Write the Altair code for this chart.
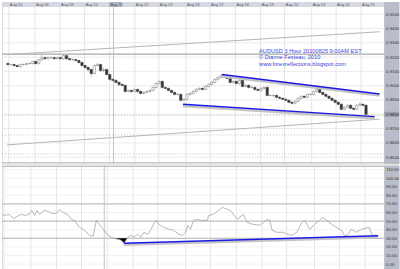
import altair as alt
import pandas as pd

# ---------------- data ----------------
opens = [0.9155, 0.9148, 0.9148, 0.9141, 0.9134, 0.9148, 0.9148, 0.9155, 0.9155, 0.9169,
         0.9155, 0.9182, 0.9196, 0.9189, 0.9196, 0.9196, 0.9189, 0.9196, 0.9189, 0.9210,
         0.9189, 0.9182, 0.9182, 0.9176, 0.9162, 0.9141, 0.9127, 0.9113, 0.9085, 0.9141,
         0.9148, 0.9106, 0.9113, 0.9078, 0.9044, 0.9037, 0.9023, 0.9009, 0.9002, 0.8960,
         0.8967, 0.8960, 0.8974, 0.8960, 0.8946, 0.8953, 0.8960, 0.8967, 0.8988, 0.9016,
         0.9030, 0.8988, 0.8981, 0.8967, 0.8953, 0.8939, 0.8939, 0.8898, 0.8905, 0.8939,
         0.8946, 0.8960, 0.8974, 0.8981, 0.8974, 0.8995, 0.9009, 0.9023, 0.9044, 0.9057,
         0.9071, 0.9064, 0.9051, 0.9023, 0.9030, 0.9016, 0.9037, 0.8995, 0.9002, 0.8988,
         0.8988, 0.8974, 0.8967, 0.8981, 0.8988, 0.8932, 0.8932, 0.8932, 0.8919, 0.8912,
         0.8905, 0.8898, 0.8884, 0.8877, 0.8891, 0.8912, 0.8926, 0.8919, 0.8939, 0.8939,
         0.8960, 0.8974, 0.8953, 0.8939, 0.8926, 0.8912, 0.8898, 0.8884, 0.8870, 0.8835,
         0.8849, 0.8863, 0.8842, 0.8835, 0.8863, 0.8870, 0.8863]
closes = [0.9148, 0.9148, 0.9141, 0.9134, 0.9148, 0.9148, 0.9155, 0.9155, 0.9169, 0.9155,
          0.9182, 0.9196, 0.9189, 0.9196, 0.9196, 0.9189, 0.9196, 0.9189, 0.9210, 0.9189,
          0.9182, 0.9182, 0.9176, 0.9162, 0.9141, 0.9127, 0.9113, 0.9085, 0.9141, 0.9148,
          0.9106, 0.9113, 0.9078, 0.9044, 0.9037, 0.9023, 0.9009, 0.9002, 0.8960, 0.8967,
          0.8960, 0.8974, 0.8960, 0.8946, 0.8953, 0.8960, 0.8967, 0.8988, 0.9016, 0.9030,
          0.8988, 0.8981, 0.8967, 0.8953, 0.8939, 0.8939, 0.8898, 0.8905, 0.8939, 0.8946,
          0.8960, 0.8974, 0.8981, 0.8974, 0.8995, 0.9009, 0.9023, 0.9044, 0.9057, 0.9071,
          0.9064, 0.9051, 0.9023, 0.9030, 0.9016, 0.9037, 0.8995, 0.9002, 0.8988, 0.8988,
          0.8974, 0.8967, 0.8981, 0.8988, 0.8932, 0.8932, 0.8932, 0.8919, 0.8912, 0.8905,
          0.8898, 0.8884, 0.8877, 0.8891, 0.8912, 0.8926, 0.8919, 0.8939, 0.8939, 0.8960,
          0.8974, 0.8953, 0.8939, 0.8926, 0.8912, 0.8898, 0.8884, 0.8870, 0.8835, 0.8849,
          0.8863, 0.8842, 0.8835, 0.8863, 0.8870, 0.8863, 0.8800]
highs = [0.9162, 0.9155, 0.9155, 0.9148, 0.9155, 0.9155, 0.9162, 0.9162, 0.9176, 0.9176,
         0.9189, 0.9217, 0.9203, 0.9203, 0.9203, 0.9203, 0.9203, 0.9203, 0.9217, 0.9217,
         0.9196, 0.9189, 0.9189, 0.9182, 0.9169, 0.9148, 0.9134, 0.9120, 0.9148, 0.9162,
         0.9155, 0.9127, 0.9120, 0.9085, 0.9051, 0.9044, 0.9030, 0.9016, 0.9009, 0.8974,
         0.8974, 0.8981, 0.8981, 0.8967, 0.8960, 0.8967, 0.8974, 0.8995, 0.9023, 0.9037,
         0.9037, 0.8995, 0.8988, 0.8974, 0.8960, 0.8946, 0.8946, 0.8912, 0.8946, 0.8953,
         0.8967, 0.8981, 0.8988, 0.8988, 0.9002, 0.9016, 0.9030, 0.9051, 0.9064, 0.9078,
         0.9078, 0.9071, 0.9057, 0.9037, 0.9037, 0.9044, 0.9044, 0.9009, 0.9009, 0.8995,
         0.8995, 0.8981, 0.8988, 0.8995, 0.8995, 0.8939, 0.8939, 0.8939, 0.8926, 0.8919,
         0.8912, 0.8905, 0.8891, 0.8898, 0.8919, 0.8932, 0.8932, 0.8946, 0.8946, 0.8967,
         0.8981, 0.8981, 0.8960, 0.8946, 0.8932, 0.8919, 0.8905, 0.8891, 0.8877, 0.8856,
         0.8870, 0.8870, 0.8849, 0.8870, 0.8884, 0.8877, 0.8870]
lows = [0.9141, 0.9141, 0.9134, 0.9127, 0.9127, 0.9141, 0.9141, 0.9148, 0.9148, 0.9148,
        0.9148, 0.9176, 0.9182, 0.9182, 0.9189, 0.9182, 0.9182, 0.9182, 0.9182, 0.9182,
        0.9176, 0.9176, 0.9169, 0.9155, 0.9134, 0.9120, 0.9099, 0.9064, 0.9078, 0.9134,
        0.9099, 0.9092, 0.9071, 0.9037, 0.9030, 0.9016, 0.8995, 0.8995, 0.8946, 0.8953,
        0.8946, 0.8953, 0.8946, 0.8939, 0.8939, 0.8946, 0.8953, 0.8960, 0.8981, 0.9009,
        0.8981, 0.8974, 0.8960, 0.8946, 0.8932, 0.8932, 0.8891, 0.8891, 0.8898, 0.8932,
        0.8939, 0.8953, 0.8967, 0.8967, 0.8967, 0.8988, 0.9002, 0.9016, 0.9037, 0.9051,
        0.9057, 0.9044, 0.9016, 0.9016, 0.9009, 0.9009, 0.8988, 0.8988, 0.8981, 0.8981,
        0.8967, 0.8960, 0.8960, 0.8974, 0.8926, 0.8926, 0.8919, 0.8912, 0.8905, 0.8898,
        0.8891, 0.8877, 0.8870, 0.8870, 0.8884, 0.8905, 0.8912, 0.8912, 0.8932, 0.8932,
        0.8953, 0.8946, 0.8932, 0.8919, 0.8905, 0.8891, 0.8877, 0.8863, 0.8828, 0.8828,
        0.8842, 0.8835, 0.8828, 0.8828, 0.8856, 0.8856, 0.8793]

day_labels = ["Aug 05", "Aug 06", "Aug 09", "Aug 10", "Aug 11", "Aug 12", "Aug 13", "Aug 16",
              "Aug 17", "Aug 18", "Aug 19", "Aug 20", "Aug 23", "Aug 24", "Aug 25"]
day_idx = [0.3, 8.8, 16.9, 24.8, 32.9, 41.1, 48.9, 57.7, 65.5, 73.7, 81.8, 89.6, 98.4, 106.3, 114.4]
highlight_day = "Aug 11"

price_ticks = [0.85, 0.86, 0.87, 0.88, 0.89, 0.90, 0.91, 0.92, 0.93, 0.94, 0.95]
dotted_levels = [0.8793, 0.8655, 0.8523]
resistance = [0.9221]

reg_idx = [-0.3, 120.4]
reg_upper = [0.9217, 0.9377]
reg_lower = [0.8586, 0.8766]

chan_up_idx = [69.3, 120.4]
chan_up_val = [0.9078, 0.8942]
chan_lo_idx = [56.7, 118.8]
chan_lo_val = [0.8870, 0.8784]

marker_main_idx = [34.2]
marker_low_idx = [32.0]

rsi_ticks = [0, 10, 20, 30, 40, 50, 60, 70, 80, 90, 100, 110]
rsi_levels = [30, 50, 70]
rsi_idx = [-0.3, 0.6, 1.9, 3.4, 5.0, 6.0, 6.9, 8.2, 9.1, 10.0, 10.7, 11.6, 12.9, 14.4, 15.4,
           16.9, 17.9, 19.1, 20.7, 21.6, 22.6, 24.1, 25.7, 27.3, 28.5, 29.5, 30.4, 31.7, 33.2,
           34.8, 36.4, 37.3, 38.2, 39.5, 40.4, 41.4, 42.6, 43.6, 44.5, 45.8, 46.7, 48.3, 49.2,
           50.8, 52.4, 53.9, 55.5, 56.7, 57.7, 58.3, 59.2, 60.2, 61.4, 62.4, 64.6, 64.9, 66.5,
           68.0, 69.3, 70.2, 71.8, 74.0, 75.9, 77.1, 79.0, 81.2, 83.4, 84.3, 85.0, 86.5, 88.4,
           90.0, 91.2, 92.8, 94.4, 95.3, 96.9, 98.4, 100.0, 100.9, 102.2, 103.8, 105.3, 106.9,
           107.8, 108.8, 110.0, 111.6, 113.2, 115.7, 116.6, 117.9]
rsi_val = [57.8, 56.6, 57.8, 53.2, 56.6, 57.8, 56.6, 57.8, 62.4, 56.6, 62.4, 57.8, 62.4, 61.3,
           59.0, 59.0, 63.6, 60.1, 56.6, 52.0, 50.9, 42.8, 39.3, 33.5, 32.4, 50.9, 46.2, 40.5,
           33.5, 30.1, 28.9, 27.7, 24.3, 31.2, 33.5, 31.2, 34.7, 31.2, 37.0, 34.7, 40.5, 50.9,
           46.2, 42.8, 40.5, 39.3, 34.7, 33.5, 37.0, 45.1, 40.5, 50.9, 52.0, 50.9, 50.9, 56.6,
           57.8, 62.4, 65.9, 64.7, 62.4, 52.0, 57.8, 48.6, 46.2, 45.1, 52.0, 50.9, 39.3, 37.0,
           37.0, 34.7, 33.5, 37.0, 48.6, 50.9, 40.5, 46.2, 50.9, 54.3, 50.9, 46.2, 42.8, 39.3,
           33.5, 33.5, 40.5, 37.0, 40.5, 42.8, 33.5, 33.5]
oversold_idx = [34.8, 36.4, 37.3, 38.2, 39.3]
oversold_val = [30.0, 28.9, 27.7, 24.3, 30.0]
rsi_trend_idx = [38.2, 118.5]
rsi_trend_val = [24.3, 33.0]

notes = ["AUDUSD 3 Hour 20100825 9:00AM EST",
         "\u00a9 Dianne Festeau, 2010",
         "www.forexreflections.blogspot.com"]

# ---------------- tables ----------------
candles = pd.DataFrame({"idx": list(range(len(opens))), "open": opens, "close": closes,
                        "high": highs, "low": lows})
candles["dir"] = ["down" if c < o else "up" for o, c in zip(opens, closes)]
days = pd.DataFrame({"idx": day_idx, "label": day_labels})
days_hl = days[days["label"] == highlight_day]
last = candles.tail(1)

W, H1, H2 = 400, 163, 106
STRIP = 385
FONT = "Liberation Sans"
xs = alt.Scale(domain=[-0.31, 125.08], nice=False, zero=False)
ps = alt.Scale(domain=[0.8454, 0.9585], nice=False, zero=False)
rs = alt.Scale(domain=[-8.09, 114.45], nice=False, zero=False)
one = alt.Data(values=[{}])

price_axis = alt.Axis(orient="right", offset=-(W - STRIP), values=price_ticks, format=".4f",
                      grid=False, ticks=False, domain=False, labelFontSize=4.3,
                      labelColor="#333333", labelPadding=1.5, labelFont=FONT, zindex=2, title=None)
rsi_axis = alt.Axis(orient="right", offset=-(W - STRIP), values=rsi_ticks, format=".2f",
                    grid=False, ticks=False, domain=False, labelFontSize=4.3,
                    labelColor="#333333", labelPadding=1.5, labelFont=FONT, zindex=2, title=None)


def X(f):
    return alt.X(f, type="quantitative", scale=xs, axis=None)


def P(f):
    return alt.Y(f, type="quantitative", scale=ps, axis=price_axis)


def R(f):
    return alt.Y(f, type="quantitative", scale=rs, axis=rsi_axis)


# ---------------- main price panel ----------------
top_strip = alt.Chart(one).mark_rect(color="#d6d9e1").encode(
    x=alt.value(0), x2=alt.value(W), y=alt.value(0), y2=alt.value(5))
vgrid = alt.Chart(days).mark_rule(color="#e0e0e0", strokeWidth=0.8).encode(
    x=X("idx"), y=alt.value(5), y2=alt.value(H1))
hgrid = alt.Chart(pd.DataFrame({"p": price_ticks})).mark_rule(color="#e6e6e6", strokeWidth=0.8).encode(
    y=P("p"), x=alt.value(0), x2=alt.value(STRIP))
dotted = alt.Chart(pd.DataFrame({"p": dotted_levels})).mark_rule(
    color="#b0b0b0", strokeWidth=0.8, strokeDash=[1, 2]).encode(
    y=P("p"), x=alt.value(0), x2=alt.value(STRIP))
resist = alt.Chart(pd.DataFrame({"p": resistance})).mark_rule(color="#a9a9a9", strokeWidth=1.3).encode(
    y=P("p"), x=alt.value(0), x2=alt.value(STRIP))
marker_main = alt.Chart(pd.DataFrame({"idx": marker_main_idx})).mark_rule(
    color="#c2c6d4", strokeWidth=1).encode(x=X("idx"), y=alt.value(5), y2=alt.value(H1))
reg_u = alt.Chart(pd.DataFrame({"idx": reg_idx, "p": reg_upper})).mark_line(
    color="#b5b5b5", strokeWidth=1, clip=True).encode(x=X("idx"), y=P("p"))
reg_l = alt.Chart(pd.DataFrame({"idx": reg_idx, "p": reg_lower})).mark_line(
    color="#b5b5b5", strokeWidth=1, clip=True).encode(x=X("idx"), y=P("p"))
wicks = alt.Chart(candles).mark_rule(color="#8e8e8e", strokeWidth=0.6).encode(
    x=X("idx"), y=P("low"), y2="high")
bodies = alt.Chart(candles).mark_bar(width=2.3, strokeWidth=0.6).encode(
    x=X("idx"), y=P("open"), y2="close",
    fill=alt.Fill("dir:N", scale=alt.Scale(domain=["down", "up"], range=["#383838", "#ffffff"]), legend=None),
    stroke=alt.Stroke("dir:N", scale=alt.Scale(domain=["down", "up"], range=["#383838", "#888888"]), legend=None))


def chan(idx, val, scale_fn):
    d = pd.DataFrame({"idx": idx, "v": val})
    shadow = alt.Chart(d).mark_line(color="#c4c4c4", strokeWidth=2.6, yOffset=1.6, clip=True).encode(
        x=X("idx"), y=scale_fn("v"))
    line = alt.Chart(d).mark_line(color="#1a1ae6", strokeWidth=1.4, clip=True).encode(
        x=X("idx"), y=scale_fn("v"))
    return [shadow, line]


note_y = [49, 55.8, 62.6]
note_layers = [alt.Chart(one).mark_text(align="left", baseline="middle", fontSize=5.7, font=FONT,
                                        color="#4343d8").encode(
    x=alt.value(259), y=alt.value(yy), text=alt.value(t)) for t, yy in zip(notes, note_y)]

right_strip = alt.Chart(one).mark_rect(color="#b9bdc9").encode(
    x=alt.value(STRIP), x2=alt.value(W), y=alt.value(0), y2=alt.value(H1))
day_hl = alt.Chart(days_hl).mark_tick(color="#9ea4bc", thickness=13, size=5, xOffset=6).encode(
    x=X("idx"), y=alt.value(2.5))
day_text = alt.Chart(days).mark_text(align="left", baseline="middle", fontSize=4, font=FONT,
                                     color="#555a66", dx=1).encode(
    x=X("idx"), y=alt.value(2.6), text="label:N")
price_hl = alt.Chart(last).mark_tick(color="#8e93a2", thickness=5, size=15).encode(
    x=alt.value(392.5), y=P("close"))
bottom_line = alt.Chart(one).mark_rule(color="#b0b0b0", strokeWidth=1).encode(
    x=alt.value(0), x2=alt.value(W), y=alt.value(H1 - 1))

main = alt.layer(
    top_strip, vgrid, hgrid, dotted, resist, marker_main, reg_u, reg_l, wicks, bodies,
    *chan(chan_up_idx, chan_up_val, P), *chan(chan_lo_idx, chan_lo_val, P),
    *note_layers, right_strip, day_hl, day_text, price_hl, bottom_line
).properties(width=W, height=H1)

# ---------------- lower RSI panel ----------------
vgrid2 = alt.Chart(days).mark_rule(color="#e0e0e0", strokeWidth=0.8).encode(
    x=X("idx"), y=alt.value(0), y2=alt.value(H2))
hgrid2 = alt.Chart(pd.DataFrame({"v": rsi_ticks})).mark_rule(color="#ececec", strokeWidth=0.7).encode(
    y=R("v"), x=alt.value(0), x2=alt.value(STRIP))
levels = alt.Chart(pd.DataFrame({"v": rsi_levels})).mark_rule(color="#b4b4b4", strokeWidth=1).encode(
    y=R("v"), x=alt.value(0), x2=alt.value(STRIP))
marker_low = alt.Chart(pd.DataFrame({"idx": marker_low_idx})).mark_rule(
    color="#c2c6d4", strokeWidth=1).encode(x=X("idx"), y=alt.value(0), y2=alt.value(H2))
oversold = alt.Chart(pd.DataFrame({"idx": oversold_idx, "v": oversold_val})).mark_area(
    color="#000000").encode(x=X("idx"), y=R("v"), y2=alt.datum(30))
rsi_line = alt.Chart(pd.DataFrame({"idx": rsi_idx, "v": rsi_val})).mark_line(
    color="#a6a6a6", strokeWidth=0.8, clip=True).encode(x=X("idx"), y=R("v"))
top_line = alt.Chart(one).mark_rule(color="#b0b0b0", strokeWidth=1).encode(
    x=alt.value(0), x2=alt.value(W), y=alt.value(0.5))
right_strip2 = alt.Chart(one).mark_rect(color="#b9bdc9").encode(
    x=alt.value(STRIP), x2=alt.value(W), y=alt.value(0), y2=alt.value(H2))

lower = alt.layer(
    vgrid2, hgrid2, levels, marker_low, oversold, rsi_line,
    *chan(rsi_trend_idx, rsi_trend_val, R), top_line, right_strip2
).properties(width=W, height=H2)

chart = alt.vconcat(main, lower, spacing=0).properties(
    padding=0, background="#ffffff"
).configure_view(stroke=None).configure(font=FONT)

chart.save("out.html", embed_options={"renderer": "svg", "actions": False})
